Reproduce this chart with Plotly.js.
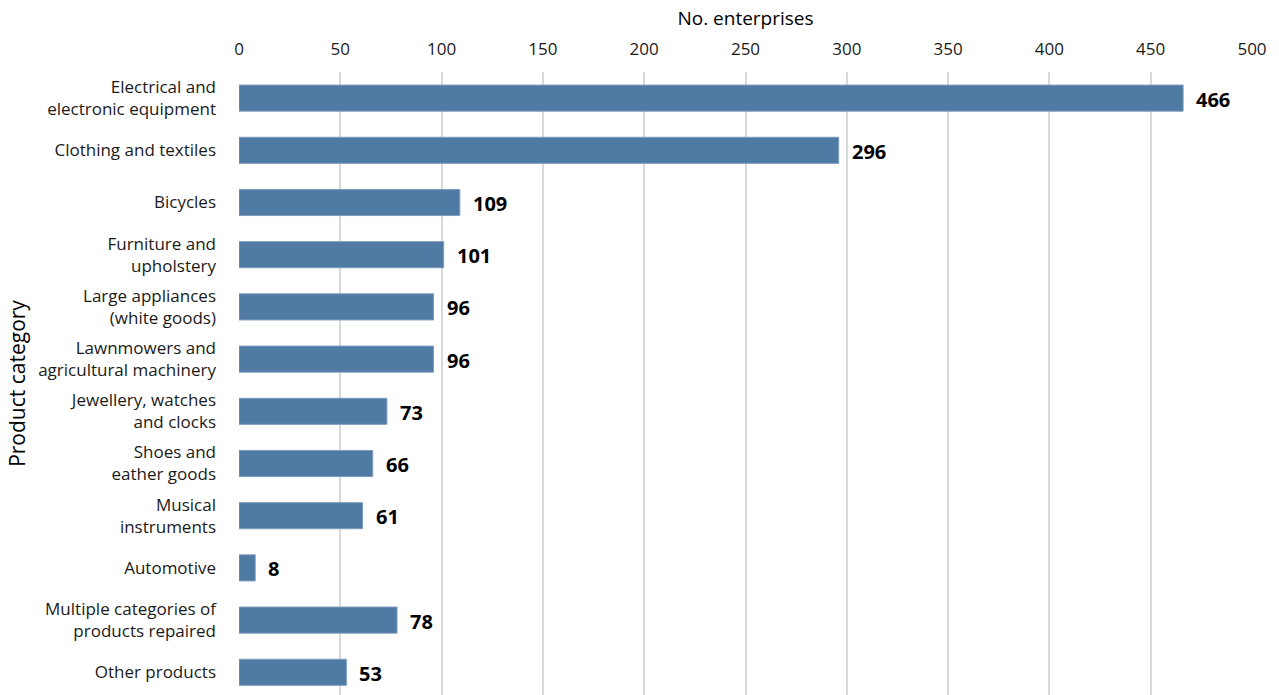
<!DOCTYPE html>
<html>
<head>
<meta charset="utf-8">
<script src="https://cdn.plot.ly/plotly-3.0.1.min.js"></script>
<style>html,body{margin:0;padding:0;background:#fff;}#chart{width:1279px;height:695px;}</style>
</head>
<body>
<div id="chart"></div>
<script>
const categories = [
  "Electrical and<br>electronic equipment",
  "Clothing and textiles",
  "Bicycles",
  "Furniture and<br>upholstery",
  "Large appliances<br>(white goods)",
  "Lawnmowers and<br>agricultural machinery",
  "Jewellery, watches<br>and clocks",
  "Shoes and<br>eather goods",
  "Musical<br>instruments",
  "Automotive",
  "Multiple categories of<br>products repaired",
  "Other products"
];
const enterprises = [466, 296, 109, 101, 96, 96, 73, 66, 61, 8, 78, 53];
const xTicks = [0, 50, 100, 150, 200, 250, 300, 350, 400, 450, 500];

const FONT = "Open Sans, Noto Sans, sans-serif";

const trace = {
  type: "bar",
  orientation: "h",
  y: categories,
  x: enterprises,
  marker: {color: "#4e7aa3", line: {color: "#7d9dbd", width: 1}},
  width: 0.5,
  hoverinfo: "x+y",
  cliponaxis: false
};

const annotations = categories.map((c, i) => ({
  x: enterprises[i],
  y: c,
  xref: "x",
  yref: "y",
  text: "<b>" + enterprises[i] + "</b>",
  showarrow: false,
  xanchor: "left",
  yanchor: "middle",
  xshift: 11,
  yshift: -1,
  font: {family: FONT, size: 20, color: "#000"}
}));

const layout = {
  width: 1279,
  height: 695,
  margin: {l: 239, r: 27, t: 72, b: 0},
  paper_bgcolor: "#fff",
  plot_bgcolor: "#fff",
  showlegend: false,
  font: {family: FONT, size: 17, color: "#1a1a1a"},
  xaxis: {
    side: "top",
    range: [0, 500],
    tickvals: xTicks,
    ticktext: xTicks.map(String),
    showgrid: true,
    gridcolor: "#d9d9d9",
    gridwidth: 2,
    zeroline: false,
    showline: false,
    ticks: "",
    ticklabelstandoff: 13,
    tickfont: {family: FONT, size: 17, color: "#1a1a1a"},
    title: {text: "No. enterprises", font: {family: FONT, size: 19, color: "#000"}, standoff: 5}
  },
  yaxis: {
    type: "category",
    range: [11.435, -0.5],
    showgrid: false,
    zeroline: false,
    showline: false,
    ticks: "",
    ticklabelstandoff: 22,
    tickfont: {family: FONT, size: 17, color: "#1a1a1a"},
    title: {text: "Product category", font: {family: FONT, size: 21, color: "#000"}, standoff: 6}
  },
  annotations: annotations
};

Plotly.newPlot("chart", [trace], layout, {displayModeBar: false, staticPlot: true});
</script>
</body>
</html>
